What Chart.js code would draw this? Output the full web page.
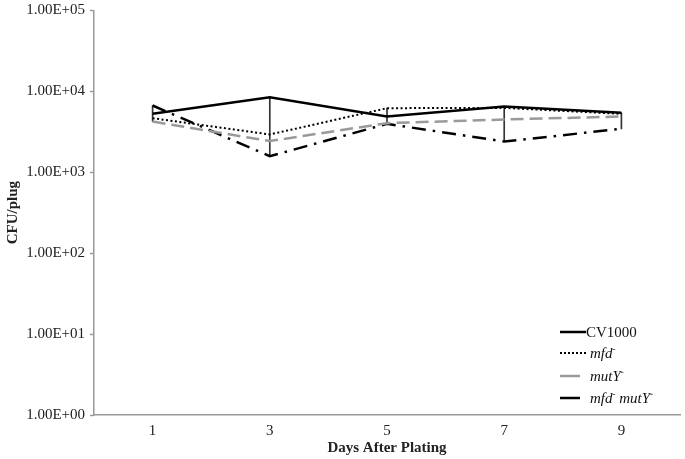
<!DOCTYPE html>
<html>
<head>
<meta charset="utf-8">
<script src="https://cdn.jsdelivr.net/npm/chart.js@4"></script>
<style>
html,body{margin:0;padding:0;background:#fff;}
#wrap{position:relative;width:685px;height:459px;}
#legend{position:absolute;left:558px;top:322px;font-family:"Liberation Serif","Times New Roman",serif;font-size:15px;color:#111;}
#legend .row{position:absolute;left:0;white-space:nowrap;height:20px;line-height:20px;}
#legend svg{position:absolute;left:0;top:0;}
#legend span{position:absolute;top:0;}
#legend .s{font-size:9px;position:relative;top:-6px;}
</style>
</head>
<body>
<div id="wrap">
<canvas id="c" width="685" height="459"></canvas>
<div id="legend">
  <div class="row" style="top:0px"><svg width="30" height="20"><line x1="2" y1="10" x2="28" y2="10" stroke="#000" stroke-width="2.5"/></svg><span style="left:28px">CV1000</span></div>
  <div class="row" style="top:21px"><svg width="30" height="20"><line x1="2" y1="10" x2="28" y2="10" stroke="#000" stroke-width="2" stroke-dasharray="2,2"/></svg><span style="left:32px"><i>mfd</i><span class="s">-</span></span></div>
  <div class="row" style="top:44px"><svg width="30" height="20"><line x1="2" y1="10" x2="22" y2="10" stroke="#9a9a9a" stroke-width="2.5"/></svg><span style="left:32px"><i>mutY</i><span class="s">-</span></span></div>
  <div class="row" style="top:66px"><svg width="30" height="20"><line x1="2" y1="10" x2="22" y2="10" stroke="#000" stroke-width="2.5"/></svg><span style="left:32px"><i>mfd</i><span class="s">-</span> <i>mutY</i><span class="s">-</span></span></div>
</div>
</div>
<script>
const days = ["1", "3", "5", "7", "9"];
const cv1000 = [5250, 8430, 4870, 6470, 5400];
const mfd = [4640, 2920, 6170, 6220, 5250];
const mutY = [4220, 2420, 4030, 4470, 4870];
const mfdMutY = [6660, 1575, 3950, 2390, 3430];
const yTicks = [1, 10, 100, 1000, 10000, 100000];

const all = [cv1000, mfd, mutY, mfdMutY];
const highLow = days.map((d, i) => {
  const vals = all.map(a => a[i]);
  return [Math.min(...vals), Math.max(...vals)];
});

const serif = '"Liberation Serif","Times New Roman",serif';

new Chart(document.getElementById('c'), {
  data: {
    labels: days,
    datasets: [
      {type:'line', label:'CV1000', data:cv1000, borderColor:'#000', borderWidth:2.5, pointRadius:0, tension:0, order:1},
      {type:'line', label:'mfd-', data:mfd, borderColor:'#000', borderWidth:2, borderDash:[2,2.5], pointRadius:0, tension:0, order:2},
      {type:'line', label:'mutY-', data:mutY, borderColor:'#9a9a9a', borderWidth:2.5, borderDash:[13,6], pointRadius:0, tension:0, order:3},
      {type:'line', label:'mfd- mutY-', data:mfdMutY, borderColor:'#000', borderWidth:2.5, borderDash:[14,7,2.5,7], pointRadius:0, tension:0, order:4},
      {type:'bar', label:'hl', data:highLow, backgroundColor:'#333', barThickness:1, order:5}
    ]
  },
  options: {
    responsive:false,
    animation:false,
    layout:{padding:{left:0, right:5, top:7.5, bottom:0}},
    plugins:{legend:{display:false}, tooltip:{enabled:false}},
    scales:{
      x:{
        type:'category',
        offset:true,
        grid:{display:false, drawTicks:false},
        border:{color:'#999', width:1.5},
        ticks:{color:'#222', font:{family:serif, size:15}, padding:7},
        title:{display:true, text:'Days After Plating', color:'#222', font:{family:serif, size:15, weight:'bold'}, padding:{top:0, bottom:2}},
        afterFit:(s)=>{ s.height = 44; }
      },
      y:{
        type:'logarithmic',
        min:1, max:100000,
        grid:{display:true, drawOnChartArea:false, drawTicks:true, tickLength:4, tickColor:'#999', tickWidth:1.5},
        border:{color:'#999', width:1.5},
        afterBuildTicks:(s)=>{ s.ticks = yTicks.map(v=>({value:v, major:true})); },
        ticks:{
          color:'#222', font:{family:serif, size:15, lineHeight:0.7}, padding:5,
          callback:(v)=>{ const e = Math.round(Math.log10(v)); return '1.00E+' + String(e).padStart(2,'0'); }
        },
        title:{display:true, text:'CFU/plug', color:'#222', font:{family:serif, size:15, weight:'bold'}, padding:{top:4, bottom:4}},
        afterFit:(s)=>{ s.width = 94; }
      }
    }
  }
});
</script>
</body>
</html>
